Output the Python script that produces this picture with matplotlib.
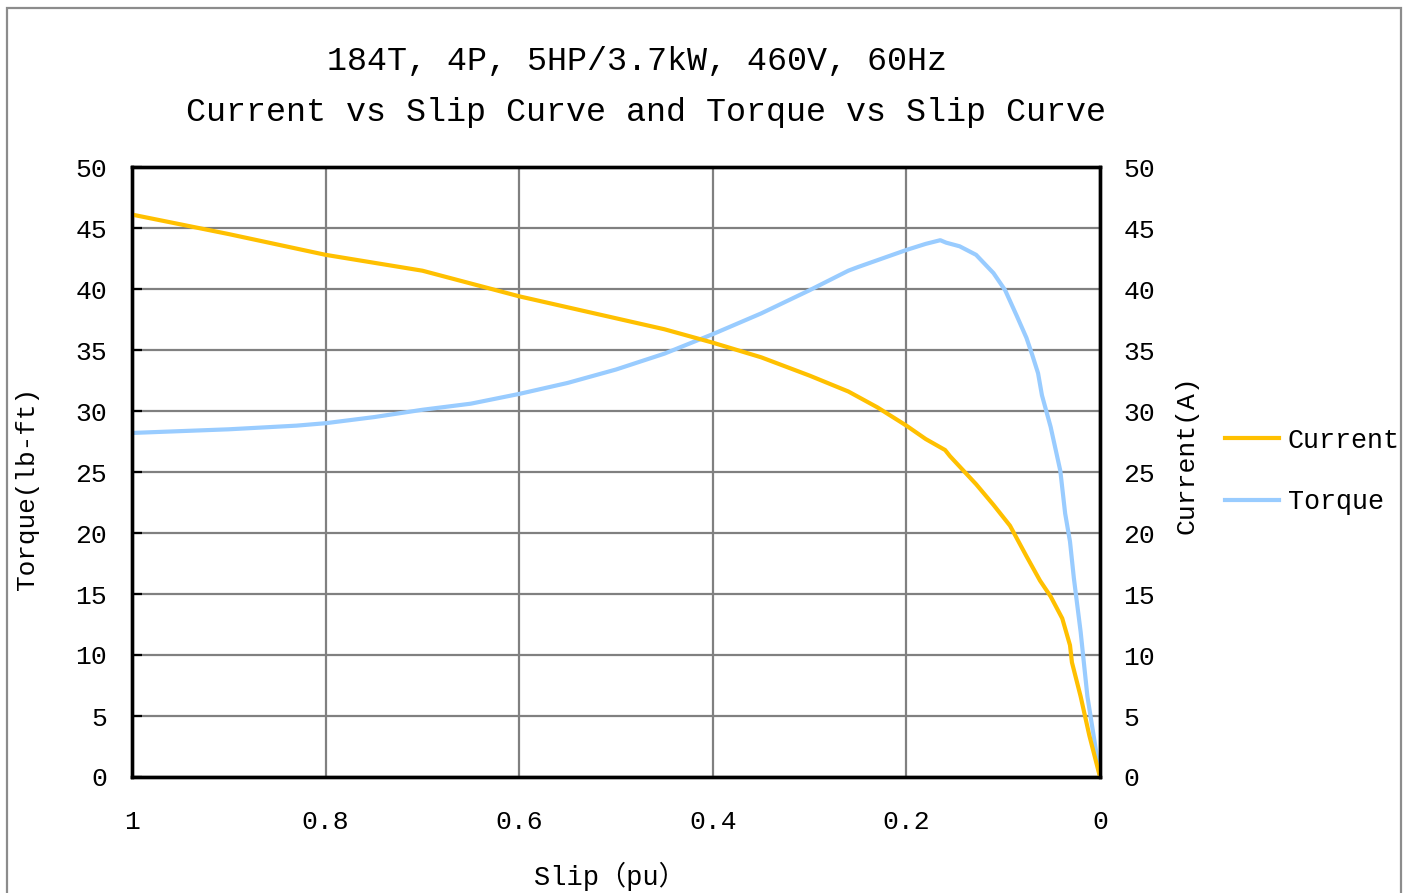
import matplotlib
matplotlib.use("Agg")
import matplotlib.pyplot as plt
from matplotlib.patches import Rectangle

# ---------------- data ----------------
current_slip = [1.0, 0.9, 0.8, 0.7, 0.6, 0.5, 0.45, 0.4, 0.35, 0.3, 0.26, 0.23, 0.2,
                0.18, 0.16, 0.155, 0.128, 0.11, 0.1, 0.093, 0.076, 0.062, 0.051,
                0.039, 0.031, 0.029, 0.020, 0.011, 0.0]
current_vals = [46.1, 44.5, 42.8, 41.5, 39.4, 37.6, 36.7, 35.6, 34.4, 32.9, 31.6, 30.3, 28.8,
                27.7, 26.8, 26.3, 24.0, 22.3, 21.3, 20.6, 18.1, 16.1, 14.8,
                13.0, 10.8, 9.4, 6.6, 3.4, 0.0]

torque_slip = [1.0, 0.9, 0.83, 0.8, 0.75, 0.7, 0.65, 0.6, 0.55, 0.5, 0.45, 0.4, 0.35,
               0.3, 0.26, 0.25, 0.2, 0.18, 0.165, 0.159, 0.145, 0.128, 0.11, 0.098,
               0.086, 0.076, 0.07, 0.064, 0.06, 0.051, 0.041, 0.036, 0.031, 0.027,
               0.02, 0.013, 0.006, 0.0]
torque_vals = [28.2, 28.5, 28.8, 29.0, 29.5, 30.1, 30.6, 31.4, 32.3, 33.4, 34.7, 36.3, 38.0,
               39.9, 41.5, 41.8, 43.2, 43.7, 44.0, 43.8, 43.5, 42.8, 41.3, 39.9,
               37.8, 36.0, 34.6, 33.1, 31.3, 28.7, 25.1, 21.6, 19.3, 16.3,
               11.9, 6.6, 3.1, 0.0]

x_ticks = [1, 0.8, 0.6, 0.4, 0.2, 0]
x_tick_labels = ["1", "0.8", "0.6", "0.4", "0.2", "0"]
y_ticks = [0, 5, 10, 15, 20, 25, 30, 35, 40, 45, 50]

title_line1 = "184T, 4P, 5HP/3.7kW, 460V, 60Hz"
title_line2 = "Current vs Slip Curve and Torque vs Slip Curve"

# ---------------- style ----------------
FONT = ["Liberation Mono", "Noto Sans CJK SC", "DejaVu Sans"]
plt.rcParams["font.family"] = FONT
CUR_C = "#FFC000"
TOR_C = "#99CCFF"
GRID_C = "#808080"

W, H = 1406, 893
fig = plt.figure(figsize=(W / 100, H / 100), dpi=100)

# outer border
fig.patches.append(Rectangle((7 / W, -0.02), (1401 - 7) / W, 1 - 8 / H + 0.02,
                             transform=fig.transFigure, fill=False,
                             edgecolor="#8c8c8c", linewidth=1.6))

ax = fig.add_axes([132 / W, 1 - 777 / H, (1100 - 132) / W, (777 - 167) / H])
ax2 = ax.twinx()

ax.set_xlim(1, 0)
ax.set_ylim(0, 50)
ax2.set_ylim(0, 50)

ax.set_xticks(x_ticks)
ax.set_xticklabels(x_tick_labels)
ax.set_yticks(y_ticks)
ax2.set_yticks(y_ticks)

ax.grid(True, color=GRID_C, linewidth=1.6)
ax.set_axisbelow(True)

lt, = ax.plot(torque_slip, torque_vals, color=TOR_C, linewidth=3, label="Torque",
              solid_joinstyle="round")
lc, = ax2.plot(current_slip, current_vals, color=CUR_C, linewidth=3, label="Current",
               solid_joinstyle="round")

for a in (ax, ax2):
    for s in a.spines.values():
        s.set_color("black")
        s.set_linewidth(2.4)

ax.tick_params(axis="x", length=0, pad=24, labelsize=19)
ax.tick_params(axis="y", direction="in", length=7, width=1.6, pad=18, labelsize=19)
ax2.tick_params(axis="y", length=0, pad=17, labelsize=19)

ax.set_xlabel("Slip（pu）", fontsize=19.5)
ax.xaxis.label.set_va("center")
ax.xaxis.set_label_coords((610 - 132) / 968, (777 - 876) / 610)

ax.set_ylabel("Torque(lb-ft)", fontsize=18.8)
ax.yaxis.label.set_va("center")
ax.yaxis.set_label_coords((27 - 132) / 968, (777 - 488) / 610)

ax2.set_ylabel("Current(A)", fontsize=19)
ax2.yaxis.label.set_va("center")
ax2.yaxis.set_label_coords((1187 - 132) / 968, (777 - 455) / 610)

fig.text(637 / W, 1 - 62 / H, title_line1, ha="center", va="center", fontsize=24)
fig.text(646 / W, 1 - 112 / H, title_line2, ha="center", va="center", fontsize=24)

fig.legend([lc, lt], ["Current", "Torque"], loc="center left",
           bbox_to_anchor=(1225 / W, 1 - 471.5 / H), bbox_transform=fig.transFigure,
           frameon=False, fontsize=19.3, handlelength=2.0, handletextpad=0.35,
           labelspacing=1.32, borderpad=0, borderaxespad=0)

fig.savefig("out.png", dpi=100)
